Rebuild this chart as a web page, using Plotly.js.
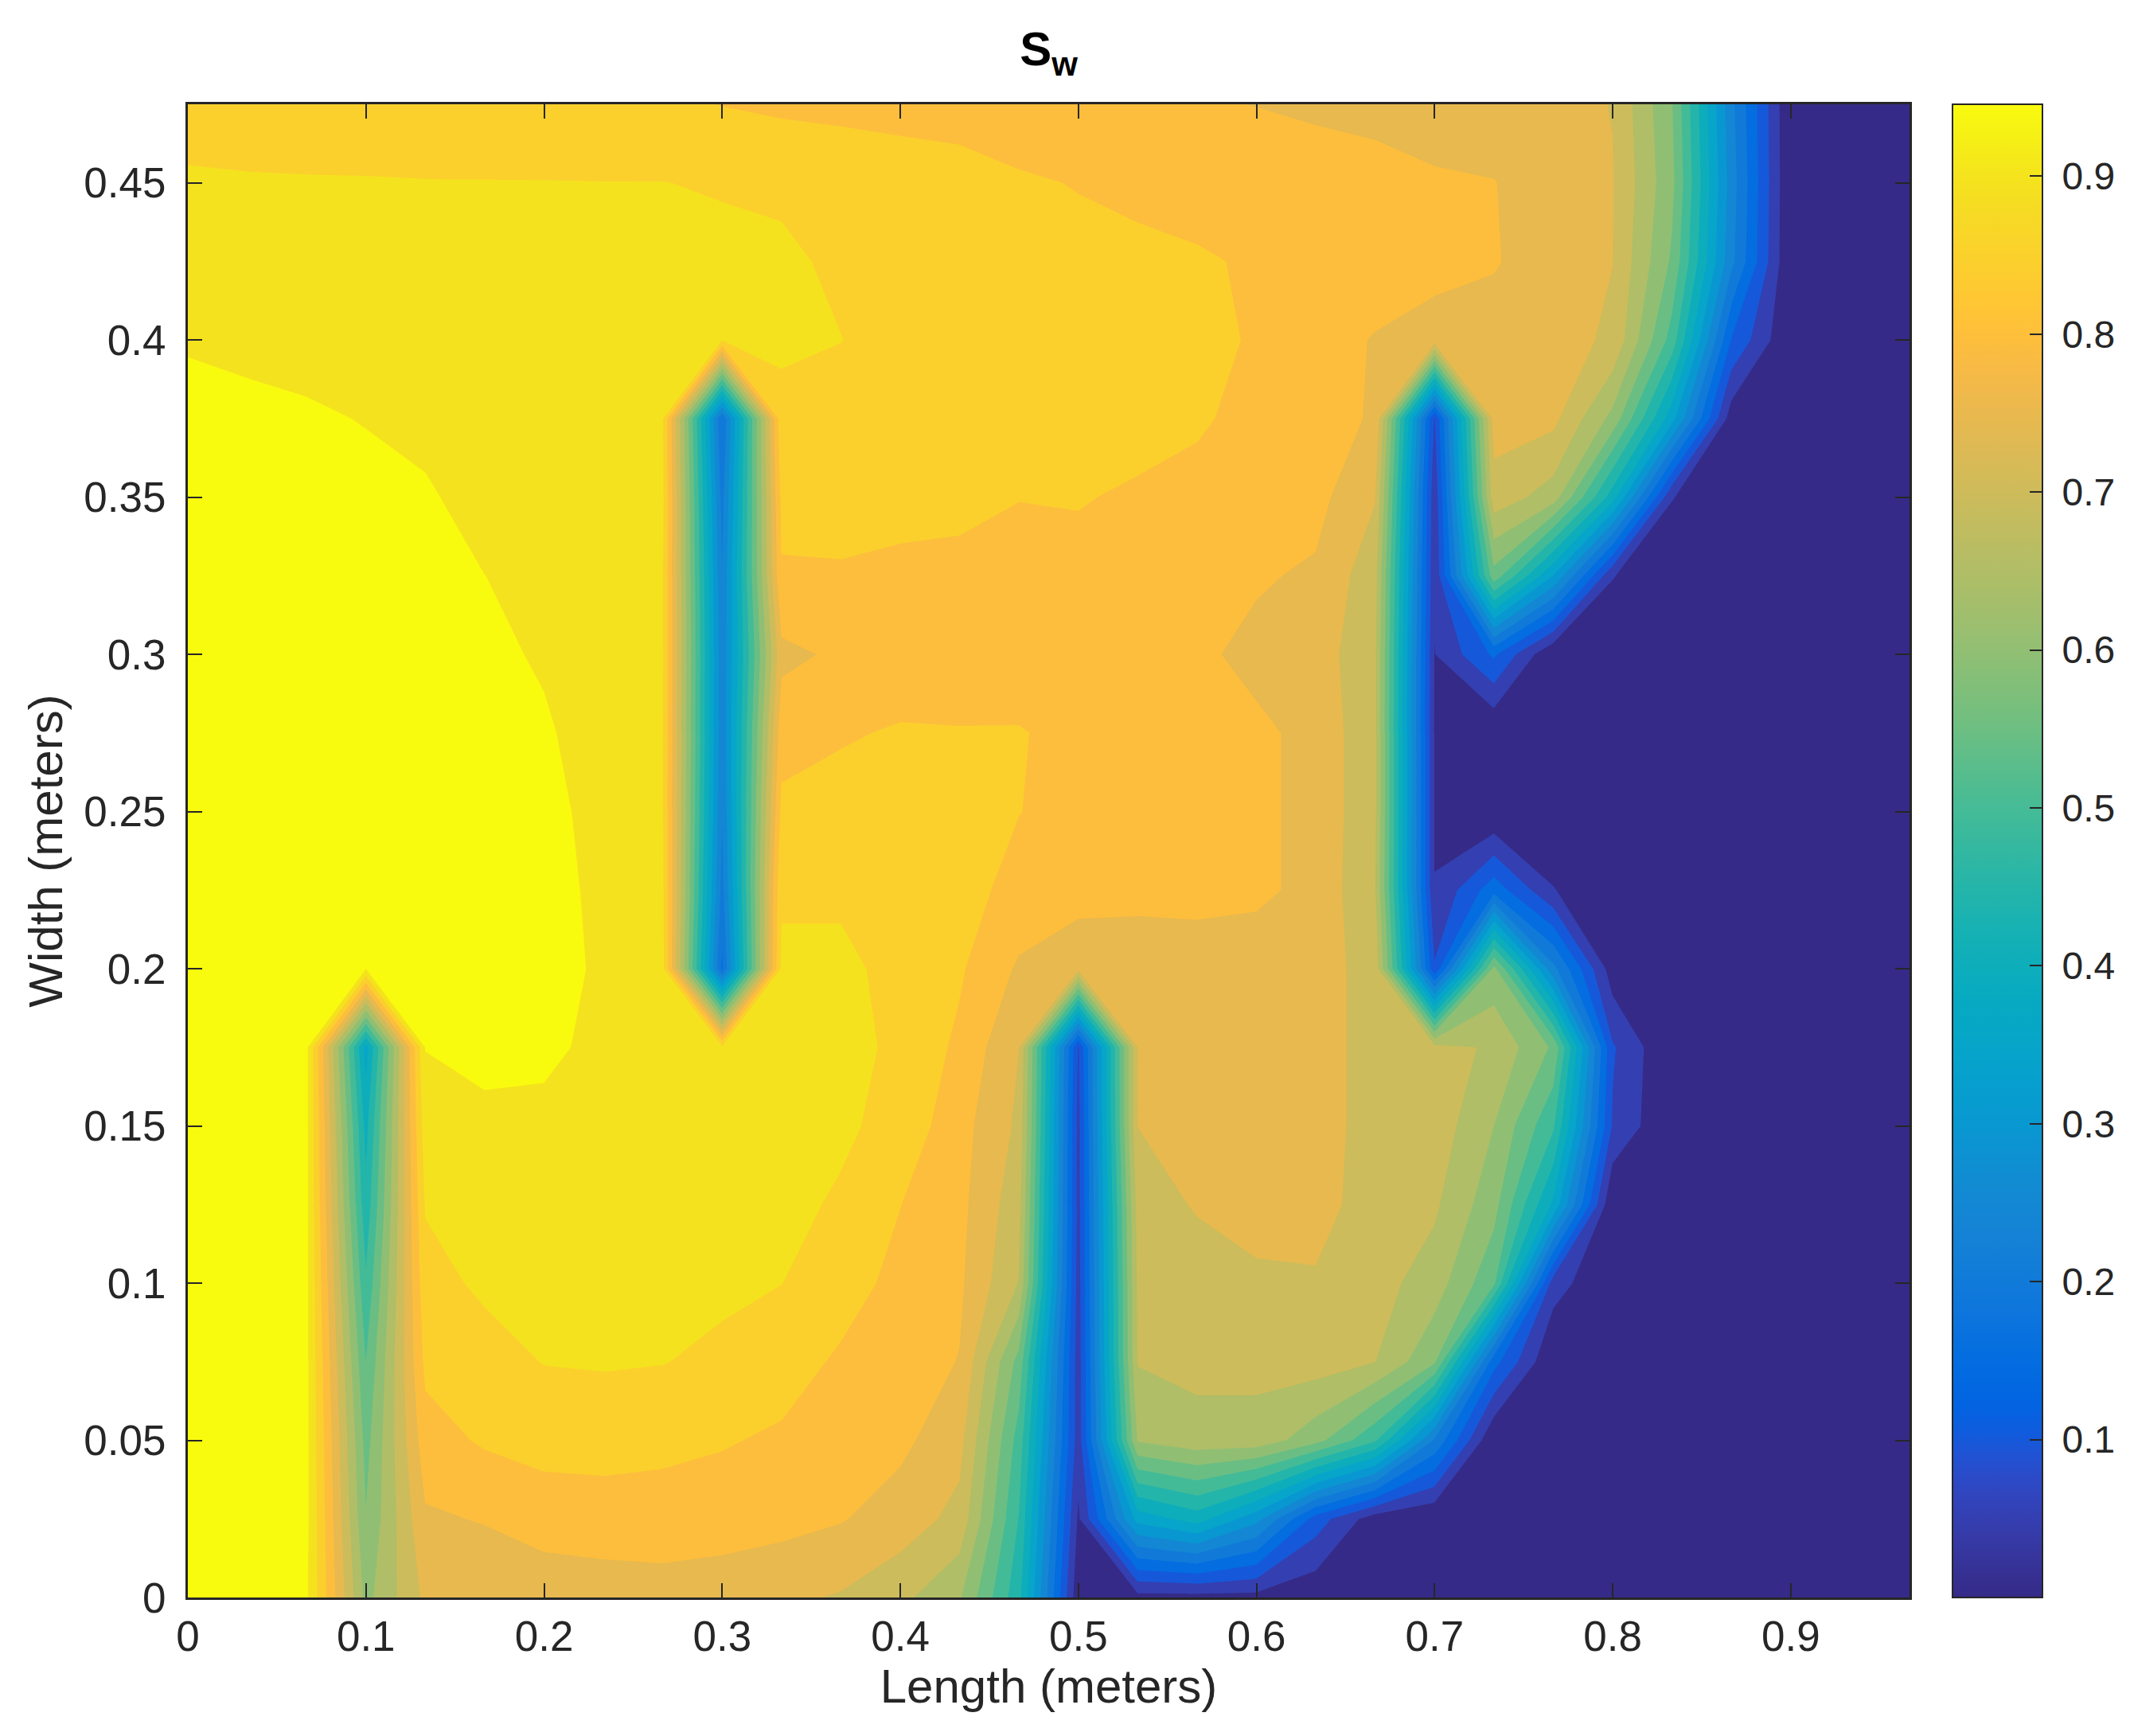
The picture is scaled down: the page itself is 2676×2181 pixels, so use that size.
<!DOCTYPE html>
<html><head><meta charset="utf-8">
<script src="https://cdn.plot.ly/plotly-3.0.1.min.js"></script>
<style>html,body{margin:0;padding:0;background:#fff}</style></head>
<body><div id="chart" style="width:2676px;height:2181px"></div>
<script>
const lengthM=[0,.03333,.06667,.1,.13333,.16667,.2,.23333,.26667,.3,.33333,.36667,.4,.43333,.46667,.5,.53333,.56667,.6,.63333,.66667,.7,.73333,.76667,.8,.83333,.86667,.9,.93333,.96667];
const widthM=[0,.025,.05,.075,.1,.125,.15,.175,.2,.225,.25,.275,.3,.325,.35,.375,.4,.425,.45,.475];
const swY000=[.945,.945,.905,.60,.72,.72,.725,.73,.735,.73,.72,.705,.675,.62,.44,.01,.03,.03,.03,.01,0,0,0,0,0,0,0,0,0,0];
const swY025=[.945,.945,.91,.57,.75,.76,.78,.785,.785,.78,.772,.76,.735,.695,.47,.04,.35,.40,.30,.12,.02,0,0,0,0,0,0,0,0,0];
const swY050=[.945,.945,.91,.55,.785,.81,.82,.82,.815,.808,.797,.785,.768,.725,.50,.07,.62,.645,.645,.585,.48,.23,0,0,0,0,0,0,0,0];
const swY075=[.945,.945,.91,.52,.815,.832,.853,.856,.853,.84,.825,.797,.78,.755,.55,.07,.665,.675,.675,.685,.663,.575,.16,0,0,0,0,0,0,0];
const swY100=[.945,.945,.91,.48,.835,.86,.87,.875,.875,.862,.852,.825,.79,.765,.66,.075,.67,.68,.70,.705,.68,.64,.53,.07,0,0,0,0,0,0];
const swY125=[.945,.945,.91,.44,.855,.87,.875,.88,.88,.88,.865,.845,.805,.77,.68,.08,.68,.715,.73,.725,.69,.67,.585,.37,0,0,0,0,0,0];
const swY150=[.945,.945,.91,.41,.875,.885,.885,.885,.885,.885,.88,.86,.835,.775,.70,.08,.71,.715,.725,.725,.695,.69,.615,.48,.09,0,0,0,0,0];
const swY175=[.945,.945,.91,.36,.90,.915,.91,.885,.875,.86,.875,.87,.84,.795,.71,.09,.71,.725,.73,.725,.695,.68,.655,.56,.10,0,0,0,0,0];
const swY200=[.945,.945,.94,.90,.94,.935,.92,.89,.865,.18,.86,.86,.84,.81,.75,.725,.73,.735,.735,.725,.695,.10,.58,.25,.02,0,0,0,0,0];
const swY225=[.945,.945,.945,.94,.94,.935,.92,.885,.86,.22,.845,.845,.835,.82,.79,.775,.77,.77,.765,.745,.665,.048,.17,.05,0,0,0,0,0,0];
const swY250=[.945,.945,.945,.94,.935,.93,.915,.88,.855,.24,.815,.82,.825,.82,.805,.79,.785,.775,.765,.745,.67,.045,0,0,0,0,0,0,0,0];
const swY275=[.945,.945,.94,.935,.93,.92,.905,.875,.855,.25,.785,.80,.808,.806,.806,.795,.785,.772,.765,.745,.67,.045,0,0,0,0,0,0,0,0];
const swY300=[.94,.94,.935,.93,.925,.91,.893,.875,.856,.25,.745,.765,.78,.785,.787,.785,.78,.765,.745,.735,.67,.046,.15,0,0,0,0,0,0,0];
const swY325=[.935,.935,.93,.925,.915,.899,.885,.87,.855,.24,.80,.802,.80,.80,.798,.795,.79,.785,.762,.75,.68,.055,.55,.33,.05,0,0,0,0,0];
const swY350=[.925,.925,.92,.91,.905,.88,.875,.87,.86,.22,.815,.812,.81,.808,.8045,.806,.80,.795,.785,.772,.712,.06,.69,.64,.40,.05,0,0,0,0];
const swY375=[.912,.908,.904,.897,.885,.875,.872,.87,.855,.19,.84,.835,.828,.822,.82,.818,.815,.808,.795,.775,.752,.09,.73,.722,.60,.35,.02,0,0,0];
const swY400=[.895,.89,.885,.885,.882,.878,.875,.87,.865,.853,.858,.852,.838,.83,.826,.822,.82,.81,.802,.775,.754,.74,.74,.725,.703,.5,.14,0,0,0];
const swY425=[.875,.875,.874,.873,.872,.87,.868,.866,.862,.862,.858,.845,.835,.828,.822,.817,.812,.808,.80,.79,.78,.77,.76,.735,.71,.56,.25,0,0,0];
const swY450=[.853,.853,.853,.853,.8525,.8525,.8525,.852,.852,.848,.845,.84,.8325,.827,.81,.802,.796,.79,.778,.77,.765,.76,.758,.735,.712,.58,.26,0,0,0];
const swY475=[.846,.842,.838,.835,.83,.826,.822,.818,.812,.803,.795,.79,.785,.78,.775,.77,.765,.76,.756,.752,.75,.745,.735,.725,.708,.57,.25,0,0,0];
const xTicks=[0,.1,.2,.3,.4,.5,.6,.7,.8,.9];
const xLabels=['0','0.1','0.2','0.3','0.4','0.5','0.6','0.7','0.8','0.9'];
const yTicks=[0,.05,.1,.15,.2,.25,.3,.35,.4,.45];
const yLabels=['0','0.05','0.1','0.15','0.2','0.25','0.3','0.35','0.4','0.45'];
const cbTicks=[.1,.2,.3,.4,.5,.6,.7,.8,.9];
const cbLabels=['\u00A00.1','\u00A00.2','\u00A00.3','\u00A00.4','\u00A00.5','\u00A00.6','\u00A00.7','\u00A00.8','\u00A00.9'];
const parula=[[.2081,.1663,.5292],[.2116,.1898,.5777],[.2123,.2138,.627],[.2081,.2386,.6771],[.1959,.2645,.7279],[.1707,.2919,.7792],[.1253,.3242,.8303],[.0591,.3598,.8683],[.0117,.3875,.882],[.006,.4086,.8828],[.0165,.4266,.8786],[.0329,.443,.872],[.0498,.4586,.8641],[.0629,.4737,.8554],[.0723,.4887,.8467],[.0779,.504,.8384],[.0793,.52,.8312],[.0749,.5375,.8263],[.0641,.557,.824],[.0488,.5772,.8228],[.0343,.5966,.8199],[.0265,.6137,.8135],[.0239,.6287,.8038],[.0231,.6418,.7913],[.0228,.6535,.7768],[.0267,.6642,.7607],[.0384,.6743,.7436],[.059,.6838,.7254],[.0843,.6928,.7062],[.1133,.7015,.6859],[.1453,.7098,.6646],[.1801,.7177,.6424],[.2178,.725,.6193],[.2586,.7317,.5954],[.3022,.7376,.5712],[.3482,.7424,.5473],[.3953,.7459,.5244],[.442,.7481,.5033],[.4871,.7491,.484],[.53,.7491,.4661],[.5709,.7485,.4494],[.6099,.7473,.4337],[.6473,.7456,.4188],[.6834,.7435,.4044],[.7184,.7411,.3905],[.7525,.7384,.3768],[.7858,.7356,.3633],[.8185,.7327,.3498],[.8507,.7299,.336],[.8824,.7274,.3217],[.9139,.7258,.3063],[.945,.7261,.2886],[.9739,.7314,.2666],[.9938,.7455,.2403],[.999,.7653,.2164],[.9955,.7861,.1967],[.988,.8066,.1794],[.9789,.8271,.1633],[.9697,.8481,.1475],[.9626,.8705,.1309],[.9589,.8949,.1132],[.9598,.9218,.0948],[.9661,.9514,.0755],[.9763,.9831,.0538]];
const colorscale=parula.map((c,i)=>[i/(parula.length-1),'rgb('+c.map(v=>Math.round(v*255)).join(',')+')']);
const z=[swY000,swY025,swY050,swY075,swY100,swY125,swY150,swY175,swY200,swY225,swY250,swY275,swY300,swY325,swY350,swY375,swY400,swY425,swY450,swY475];
const ink='#262626', font='"Liberation Sans", Arial, sans-serif';
const contour={type:'contour',x:lengthM,y:widthM,z:z,colorscale:colorscale,zauto:false,zmin:.0237,zmax:.9216,showscale:false,
  autocontour:false,contours:{coloring:'fill',start:.0473,end:.8987,size:.0473,showlines:false},line:{width:0,smoothing:0},hoverinfo:'skip'};
const scaleHolder={type:'scatter',mode:'markers',x:[-1,-1],y:[-1,-1],hoverinfo:'skip',showlegend:false,
  marker:{size:1,color:[0,.9456],cmin:0,cmax:.9456,colorscale:colorscale,showscale:true,
    colorbar:{x:1.025,xanchor:'left',xref:'paper',y:0,yanchor:'bottom',yref:'paper',len:1,lenmode:'fraction',thickness:113,thicknessmode:'pixels',xpad:0,ypad:0,
      outlinecolor:ink,outlinewidth:2,tickmode:'array',tickvals:cbTicks,ticktext:cbLabels,ticks:'inside',ticklen:17,tickwidth:2,tickcolor:ink,
      tickfont:{family:font,size:48,color:ink}}}};
const axis={showgrid:false,zeroline:false,showline:true,linecolor:ink,linewidth:3,mirror:'ticks',ticks:'inside',ticklen:18,tickwidth:2,tickcolor:ink,
  tickfont:{family:font,size:53,color:ink},automargin:false};
Plotly.newPlot('chart',[contour,scaleHolder],{
  width:2676,height:2181,paper_bgcolor:'#fff',plot_bgcolor:'#fff',showlegend:false,
  margin:{l:236,r:277,t:131,b:174,pad:0,autoexpand:false},
  title:{text:'<b>S<sub>w</sub></b>',x:.5,xanchor:'center',xref:'paper',y:.972,yanchor:'middle',font:{family:font,size:60,color:'#000'}},
  xaxis:Object.assign({},axis,{range:[0,.96667],tickmode:'array',tickvals:xTicks,ticktext:xLabels,title:{text:'Length (meters)',standoff:12,font:{family:font,size:60,color:ink}}}),
  yaxis:Object.assign({},axis,{range:[0,.475],tickmode:'array',tickvals:yTicks,ticktext:yLabels,ticklabelstandoff:14,title:{text:'Width (meters)',standoff:8,font:{family:font,size:60,color:ink}}})
},{displayModeBar:false,staticPlot:true});
</script></body></html>
